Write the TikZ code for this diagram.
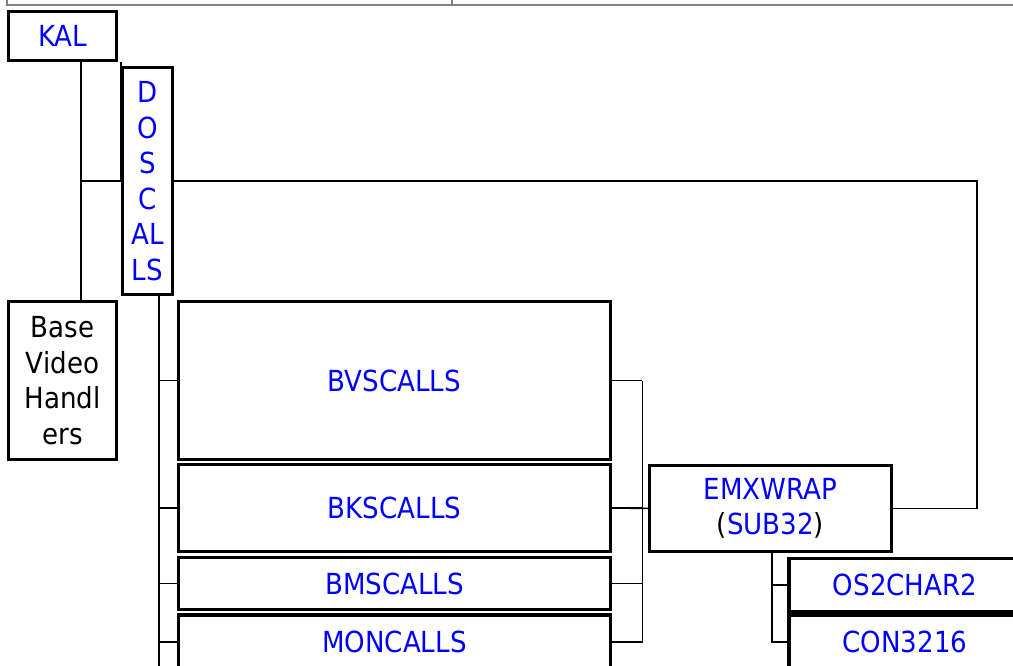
\documentclass[tikz,border=0pt]{standalone}
\usepackage{fontspec}
\setmainfont{DejaVu Sans Condensed}
\begin{document}
\begin{tikzpicture}[x=1pt, y=-1pt, thick,
    box/.style = {draw, line width=3.5pt, text=blue, align=center, inner sep=0pt,
      font=\fontsize{29}{35.5}\selectfont},
    link/.style = {line width=1.5pt}]
    \clip (0,0) rectangle (1013,666);
    \draw[gray, line width=2pt] (7,0) -- (7,5.5) -- (1013,5.5);
    \draw[gray, line width=2pt] (452,0) -- (452,5.5);
    \node[box, minimum width=108pt, minimum height=49pt] (KAL) at (62.5,36) {KAL};
    \node[box, minimum width=50pt, minimum height=227pt] (DOSCALLS) at (147.5,181) {D\\O\\S\\C\\AL\\LS};
    \node[box, text=black, minimum width=108pt, minimum height=158pt] (Base) at (62.5,380.5) {Base\\Video\\Handl\\ers};
    \node[box, minimum width=432pt, minimum height=158pt] (BVSCALLS) at (394.5,380.5) {BVSCALLS};
    \node[box, minimum width=432pt, minimum height=87pt] (BKSCALLS) at (394.5,508) {BKSCALLS};
    \node[box, minimum width=432pt, minimum height=52pt] (BMSCALLS) at (394.5,583.5) {BMSCALLS};
    \node[box, minimum width=432pt, minimum height=54pt] (MONCALLS) at (394.5,642) {MONCALLS};
    \node[box, minimum width=242pt, minimum height=86pt] (EMXWRAP) at (770.5,508.5) {EMXWRAP\\{\color{black}(}SUB32{\color{black})}};
    \node[box, minimum width=232pt, minimum height=53pt] (OS2CHAR2) at (905,585) {OS2CHAR2};
    \node[box, minimum width=232pt, minimum height=54pt] (CON3216) at (905,642) {CON3216};
    % KAL to its children
    \draw[link] ([xshift=18.5pt]KAL.south) -- ([xshift=18.5pt]KAL.south |- Base.north);
    \draw[link] ([xshift=2.5pt]KAL.south east) -- ++(0,120);
    \draw[link] ([xshift=18.5pt]KAL.south |- DOSCALLS.west) -- (DOSCALLS.west);
    % DOSCALLS back to EMXWRAP
    \coordinate (back) at (977,181);
    \draw[link] (DOSCALLS.east) -- (back) |- (EMXWRAP.east);
    % DOSCALLS children
    \coordinate (dl) at ([xshift=11.5pt]DOSCALLS.south);
    \draw[link] (dl) -- ++(0,380);
    \foreach \b in {BVSCALLS,BKSCALLS,BMSCALLS,MONCALLS}
        \draw[link] (dl |- \b.west) -- (\b.west);
    % into EMXWRAP
    \coordinate (rl) at ([xshift=30pt]BVSCALLS.east);
    \draw[link] (rl) |- (MONCALLS.east);
    \foreach \b in {BVSCALLS,BKSCALLS,BMSCALLS}
        \draw[link] (\b.east) -- (\b.east -| rl);
    \draw[link] (BKSCALLS.east) -- (EMXWRAP.west);
    % EMXWRAP children
    \coordinate (el) at ([xshift=1.5pt]EMXWRAP.south);
    \draw[link] (el) |- (CON3216.west);
    \draw[link] (el |- OS2CHAR2.west) -- (OS2CHAR2.west);
\end{tikzpicture}
\end{document}
